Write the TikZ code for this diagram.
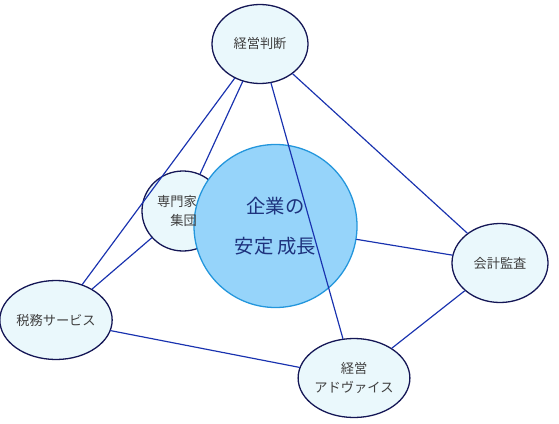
\documentclass[tikz,border=0pt]{standalone}
\usepackage{fontspec}
\setmainfont{Noto Sans CJK JP}
\usetikzlibrary{shapes.geometric}
\definecolor{linkblue}{RGB}{25,50,175}
\definecolor{ovalfill}{RGB}{234,248,252}
\definecolor{ovaldraw}{RGB}{20,22,85}
\definecolor{corefill}{RGB}{150,212,250}
\definecolor{coredraw}{RGB}{35,150,220}
\definecolor{coretext}{RGB}{30,50,125}
\begin{document}
\begin{tikzpicture}[x=0.03cm, y=-0.03cm, line join=round, line cap=round,
  ovaltext/.style={inner sep=0pt, font=\fontsize{11.3}{16}\selectfont, text=black!75, align=center},
  oval/.style={ellipse, draw=ovaldraw, line width=1.1pt, fill=ovalfill, minimum width=2.88cm, minimum height=2.37cm, ovaltext},
  core/.style={circle, draw=coredraw, line width=1.1pt, fill=corefill, minimum size=4.89cm, inner sep=0pt,
    font=\fontsize{16.5}{34}\selectfont, text=coretext, align=center},
  link/.style={linkblue, line width=1pt}]
\useasboundingbox (0,0) rectangle (559,424);
\node[oval] (keiei) at (260,44) {経営判断};
\node[oval] (kaikei) at (500,263) {会計監査};
\node[oval] (zeimu) at (56,320) {税務サービス};
\node[oval] (advice) at (354,378) {経営\\ アドヴァイス};
\node[oval, minimum width=2.46cm, minimum height=2.4cm] (senmon) at (183,211) {};
\node[core] (kigyo) at (275.5,226) {企業の\\安定 成長};
\node[ovaltext, align=right, anchor=east] (senmonlabel) at (197,211) {専門家\\集団};
% connectors
\draw[link] (keiei) -- (zeimu);
\draw[link] (keiei) -- (senmon);
\draw[link] (keiei) -- (kaikei);
\draw[link] (keiei) -- (advice);
\draw[link] (senmon) -- (zeimu);
\draw[link] (kigyo) -- (kaikei);
\draw[link] (zeimu) -- (advice);
\draw[link] (kaikei) -- (advice);
\end{tikzpicture}
\end{document}
